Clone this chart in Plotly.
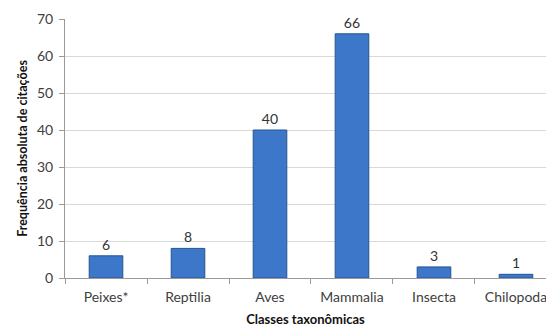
import plotly.graph_objects as go

categories = ["Peixes*", "Reptilia", "Aves", "Mammalia", "Insecta", "Chilopoda"]
values = [6, 8, 40, 66, 3, 1]
y_ticks = [0, 10, 20, 30, 40, 50, 60, 70]

fig = go.Figure()
fig.add_trace(go.Bar(
    x=categories, y=values, width=0.41,
    marker=dict(color="#3d77c9", line=dict(color="#27548f", width=1)),
    text=[str(v) for v in values], textposition="outside",
    textfont=dict(family="Lato, sans-serif", size=14, color="#333333"),
    cliponaxis=False,
))
fig.update_layout(
    width=546, height=330,
    margin=dict(l=65, r=0, t=19, b=52),
    paper_bgcolor="white", plot_bgcolor="white",
    showlegend=False,
    font=dict(family="Lato, sans-serif", color="#404040"),
)
fig.update_xaxes(
    range=[-0.5, 5.366], showline=True, linecolor="#9a9a9a", linewidth=1,
    ticks="outside", tickson="boundaries", ticklen=5, tickcolor="#9a9a9a",
    ticklabelstandoff=6, automargin=False,
    tickfont=dict(size=14, color="#404040"),
    title=dict(text="<b>Classes taxonômicas</b>", font=dict(size=13, color="#111111"), standoff=11),
)
fig.update_yaxes(
    range=[0, 70], tickvals=y_ticks, showline=True, linecolor="#9a9a9a", linewidth=1,
    ticks="outside", ticklen=5, tickcolor="#9a9a9a",
    ticklabelstandoff=3, automargin=False,
    showgrid=True, gridcolor="#d9d9d9", gridwidth=1,
    tickfont=dict(size=14, color="#404040"),
    title=dict(text="<b>Frequência absoluta de citações</b>", font=dict(size=12.5, color="#111111"), standoff=6),
)
fig.write_html("out.html")
